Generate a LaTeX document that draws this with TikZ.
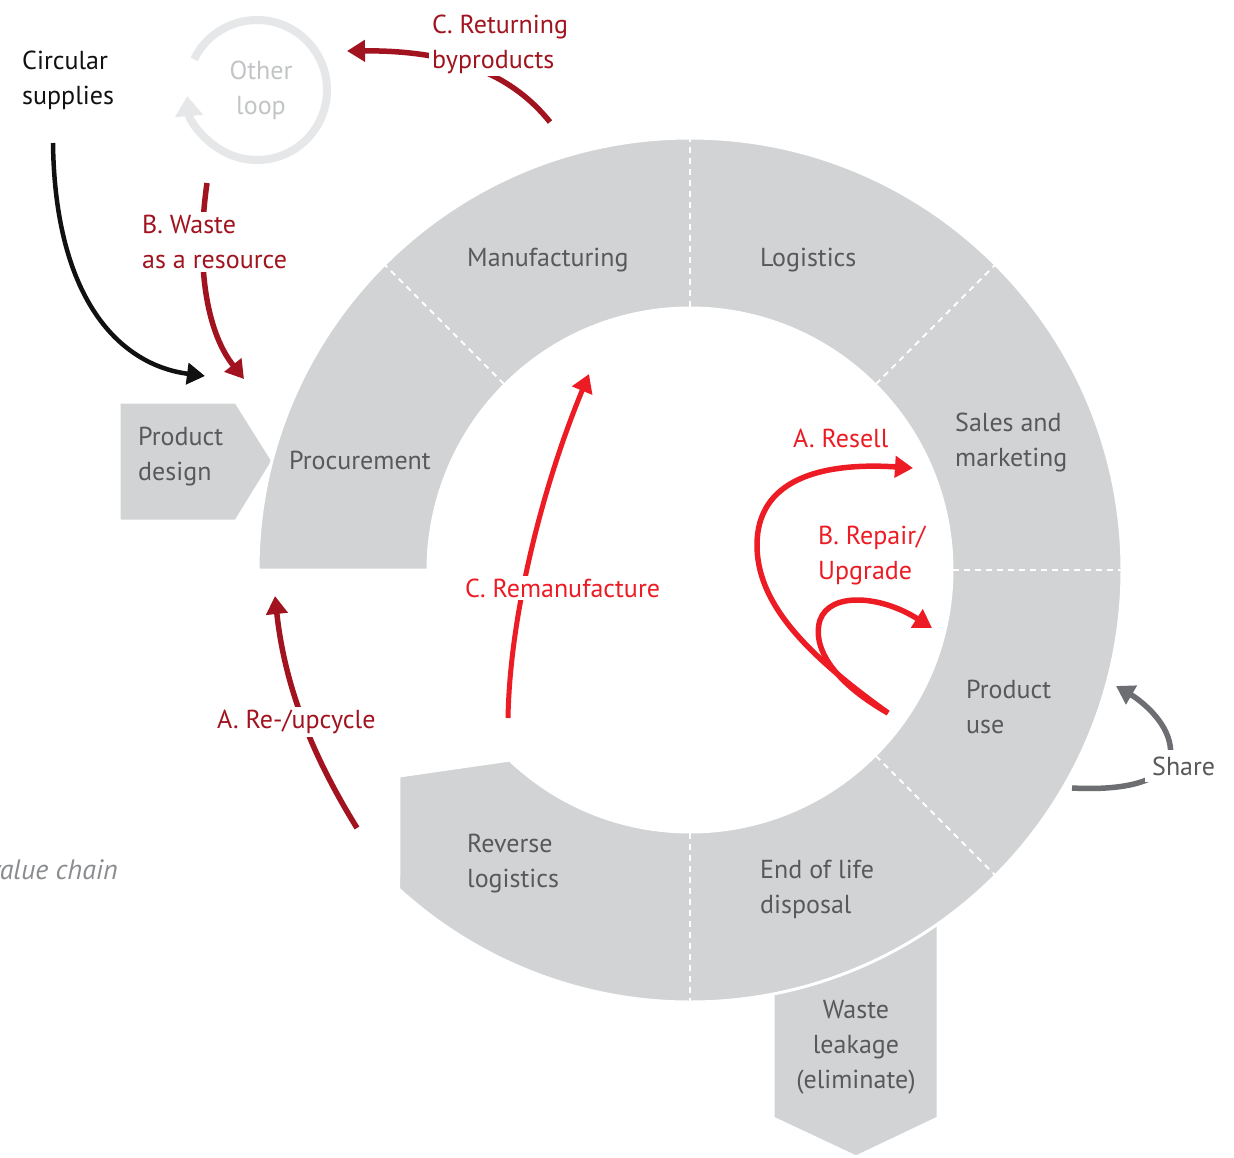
\documentclass[tikz,border=0pt]{standalone}
\usepackage{fontspec}
\setmainfont{PT Sans}
\usetikzlibrary{arrows.meta}
\definecolor{ringgrey}{HTML}{D1D3D4}
\definecolor{txtgrey}{HTML}{58595B}
\definecolor{dred}{HTML}{A1141F}
\definecolor{bred}{HTML}{ED1C24}
\definecolor{loopgrey}{HTML}{E6E7E8}
\definecolor{looptxt}{HTML}{C2C4C6}
\definecolor{sharegrey}{HTML}{6D6E71}
\definecolor{chaingrey}{HTML}{8A8C8F}
\definecolor{nearblack}{HTML}{111111}
\begin{document}
\begin{tikzpicture}[x=1pt,y=-1pt,
  lbl/.style={font=\fontsize{26}{35}\selectfont, inner sep=0pt, align=left, anchor=west},
  ringlbl/.style={lbl, text=txtgrey},
  arrlbl/.style={lbl, fill=white, inner sep=3pt},
  divider/.style={white, line width=2pt, dash pattern=on 6pt off 5pt},
  arr/.style={line width=5.5pt, -{Triangle[length=18pt,width=21pt]}},
  shapebox/.style={fill=ringgrey, draw=white, line width=3pt, line join=round}
]
\useasboundingbox (0,0) rectangle (1234,1157);
\fill[white] (0,0) rectangle (1234,1157);

% background boxes
\path[shapebox] (119,402) -- (236,402) -- (273,461) -- (236,521) -- (119,521) -- cycle;
\path[shapebox] (773,900) -- (938,900) -- (938,1118) -- (856,1157) -- (773,1118) -- cycle;

% ring
\coordinate (C) at (690,570);
\path[shapebox] ([shift={(690,570)}]180:432) arc[start angle=180, end angle=492.4, radius=432]
  -- (399,776) -- ([shift={(690,570)}]493.5:262)
  arc[start angle=493.5, end angle=180, radius=262] -- cycle;

% dividers
\foreach \a in {225,270,315,360,405,450}
  \draw[divider] ([shift={(690,570)}]\a:263) -- ([shift={(690,570)}]\a:431);

% ring labels
\node[ringlbl] (proc) at (289,460) {Procurement};
\node[ringlbl] (manu) at (467,260) {Manufacturing};
\node[ringlbl] (logi) at (760,260) {Logistics};
\node[ringlbl] (sales) at (955,442) {Sales and\\marketing};
\node[ringlbl] (puse) at (966,707) {Product\\use};
\node[ringlbl] (eol) at (760,889) {End of life\\disposal};
\node[ringlbl] (rev) at (467,864) {Reverse\\logistics};
\node[ringlbl] (pdes) at (138,457) {Product\\design};
\node[ringlbl, align=center, anchor=center] (waste) at (856,1047) {Waste\\leakage\\(eliminate)};

% other loop
\draw[loopgrey, line width=8pt, -{Triangle[length=20pt,width=27pt]}]
  ([shift={(257,90)}]206:70) arc[start angle=206, end angle=535, radius=70];
\node[lbl, text=looptxt, align=center, anchor=center] (other) at (261,90) {Other\\loop};

\node[lbl, text=nearblack] (circ) at (22,80) {Circular\\supplies};
\node[lbl, text=chaingrey, anchor=east, font=\fontsize{28}{32}\selectfont\itshape] (vchain) at (118,870) {value chain};

% coordinates for arrow ends
\coordinate (csS) at (53,143);   \coordinate (csE) at (205,376);
\coordinate (wrS) at (207,183);  \coordinate (wrE) at (244,379);
\coordinate (rbS) at (550,122);  \coordinate (rbE) at (347,51);
\coordinate (ruS) at (357,828);  \coordinate (ruE) at (275,596);
\coordinate (rmS) at (508,718);  \coordinate (rmE) at (589,374);
\coordinate (puS) at (888,713);
\coordinate (rsE) at (913,468);
\coordinate (rpE) at (932,628);
\coordinate (shS) at (1072,788); \coordinate (shE) at (1116,686);

% arrows
\draw[arr, nearblack, line width=4.5pt] (csS) .. controls (55,300) and (120,365) .. (csE);
\draw[arr, dred] (wrS) .. controls (196,260) and (205,330) .. (wrE);
\draw[arr, dred] (rbS) .. controls (520,85) and (470,50) .. (rbE);
\draw[arr, dred] (ruS) .. controls (315,760) and (285,690) .. (ruE);
\draw[arr, bred, line width=5pt] (rmS) .. controls (510,610) and (545,480) .. (rmE);
\draw[arr, bred] (puS) .. controls (800,650) and (757,600) .. (757,545)
  .. controls (757,480) and (820,462) .. (rsE);
\draw[arr, bred] (puS) .. controls (830,680) and (812,645) .. (820,620)
  .. controls (830,592) and (880,595) .. (rpE);
\draw[arr, sharegrey] (shS) .. controls (1150,792) and (1175,770) .. (1170,745)
  .. controls (1166,720) and (1140,700) .. (shE);

% arrow labels
\node[arrlbl, text=dred] (lwr) at (139,242) {B. Waste\\as a resource};
\node[arrlbl, text=dred] (lrb) at (429,44) {C. Returning\\byproducts};
\node[arrlbl, text=dred] (lru) at (214,722) {A. Re-/upcycle};
\node[arrlbl, text=bred] (lrm) at (462,588) {C. Remanufacture};
\node[arrlbl, text=bred] (lrs) at (790,438) {A. Resell};
\node[arrlbl, text=bred] (lrp) at (815,555) {B. Repair/\\Upgrade};
\node[arrlbl, text=txtgrey, inner sep=7pt] (lsh) at (1145,766) {Share};
\end{tikzpicture}
\end{document}
